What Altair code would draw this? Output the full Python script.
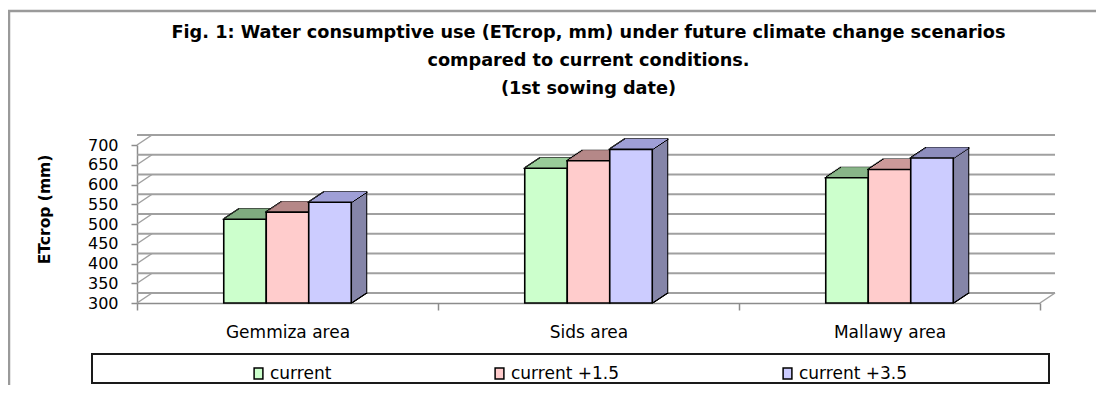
import altair as alt
import pandas as pd

# ---- data ----
areas = ["Gemmiza area", "Sids area", "Mallawy area"]
scenarios = ["current", "current +1.5", "current +3.5"]
current = [512, 641, 617]
plus15 = [530, 660, 638]
plus35 = [555, 689, 667]
y_ticks = [300, 350, 400, 450, 500, 550, 600, 650, 700]

title_lines = [
    "Fig. 1: Water consumptive use (ETcrop, mm) under future climate change scenarios",
    "compared to current conditions.",
    "(1st sowing date)",
]

front_colors = ["#ccffcc", "#ffcccc", "#ccccff"]
top_colors = ["#99cc99", "#cc9999", "#9f9fd6"]
side_colors = ["#80a680", "#a68080", "#8585a8"]

rows = []
for s, vals in zip(scenarios, [current, plus15, plus35]):
    for a, v in zip(areas, vals):
        rows.append({"area": a, "scenario": s, "et": v})
df = pd.DataFrame(rows)
ticks_df = pd.DataFrame({"et": y_ticks})
floor_df = pd.DataFrame({"et": [y_ticks[0]]})

# ---- layout / style ----
FONT = "DejaVu Sans"
W, H = 903, 158
BAR_W = 42.5
DX, DY = 15, 10
STEPS = 10
GRID = "#a0a0a0"
AXC = "#8c8c8c"

x_enc = alt.X(
    "area:N", sort=areas,
    scale=alt.Scale(paddingInner=0, paddingOuter=0),
    axis=alt.Axis(title=None, labelFont=FONT, labelFontSize=17, labelColor="black",
                  labelAngle=0, labelPadding=14, tickBand="extent", tickSize=7,
                  tickColor=AXC, tickWidth=1.5, domainColor=AXC, domainWidth=1.5,
                  grid=False),
)
y_scale = alt.Scale(domain=[y_ticks[0], y_ticks[-1]], zero=False, nice=False)
y_axis = alt.Axis(values=y_ticks, grid=False, tickSize=6, tickColor=AXC, tickWidth=1.5,
                  domainColor=AXC, domainWidth=1.5, labelFont=FONT, labelFontSize=16,
                  labelColor="black", labelPadding=13, title="ETcrop (mm)",
                  titleFont=FONT, titleFontSize=15.5, titleFontWeight="bold",
                  titleColor="black", titleX=-85, titleY=64)
y_enc = alt.Y("et:Q", scale=y_scale, axis=y_axis)
y2_enc = alt.datum(y_ticks[0])

layers = []

# back wall gridlines
layers.append(
    alt.Chart(ticks_df).mark_rule(color=GRID, strokeWidth=2, xOffset=DX, x2Offset=DX,
                                  yOffset=-DY).encode(y=y_enc)
)
# side wall diagonals from front ticks to back wall
layers.append(
    alt.Chart(ticks_df).mark_rule(color=GRID, strokeWidth=1.5, y2Offset=-DY).encode(
        x=alt.value(0), x2=alt.value(DX), y=y_enc, y2=alt.Y2("et:Q"))
)
# right floor diagonal
layers.append(
    alt.Chart(floor_df).mark_rule(color=GRID, strokeWidth=1.5, y2Offset=-DY).encode(
        x=alt.value(W), x2=alt.value(W + DX), y=y_enc, y2=alt.Y2("et:Q"))
)

offs = [-BAR_W, 0, BAR_W]
sx, sy = DX / STEPS, DY / STEPS
for k, s in enumerate(scenarios):
    base = alt.Chart(df[df["scenario"] == s])
    # black silhouette of extrusion
    for i in range(1, STEPS + 1):
        layers.append(base.mark_bar(width=BAR_W, color="black", stroke="black", strokeWidth=2,
                                    xOffset=offs[k] + i * sx, yOffset=-i * sy,
                                    y2Offset=-i * sy).encode(x=x_enc, y=y_enc, y2=y2_enc))
    # side face colour
    for i in range(1, STEPS + 1):
        layers.append(base.mark_bar(width=BAR_W, color=side_colors[k], strokeWidth=0,
                                    xOffset=offs[k] + i * sx, yOffset=-i * sy,
                                    y2Offset=-i * sy).encode(x=x_enc, y=y_enc, y2=y2_enc))
    # top face outline
    for i in range(0, STEPS + 1):
        layers.append(base.mark_tick(orient="horizontal", size=BAR_W + 2.5, thickness=1.2,
                                     color="black", opacity=1,
                                     xOffset=offs[k] + i * sx, yOffset=-i * sy).encode(x=x_enc, y=y_enc))
    # top face colour
    for i in range(0, STEPS + 1):
        layers.append(base.mark_tick(orient="horizontal", size=BAR_W - 0.5, thickness=1.2,
                                     color=top_colors[k], opacity=1,
                                     xOffset=offs[k] + i * sx, yOffset=-i * sy).encode(x=x_enc, y=y_enc))
    # front face
    layers.append(
        base.mark_bar(width=BAR_W, xOffset=offs[k], stroke="black", strokeWidth=1.6, opacity=1).encode(
            x=x_enc, y=y_enc, y2=y2_enc,
            color=alt.Color("scenario:N", scale=alt.Scale(domain=scenarios, range=front_colors),
                            legend=alt.Legend(title=None, orient="none", legendX=113, legendY=220,
                                              direction="horizontal", columnPadding=159,
                                              labelFont=FONT, labelFontSize=17, labelColor="black",
                                              symbolType="M-0.8,-1H0.8V1H-0.8Z", symbolSize=121,
                                              symbolStrokeColor="black", symbolStrokeWidth=1.5,
                                              symbolOpacity=1, labelOffset=3, padding=0)),
        )
    )

box_df = pd.DataFrame({"box": ["legend"]})
# legend frame
layers.append(
    alt.Chart(box_df).mark_rect(fill=None, stroke="#1a1a1a", strokeWidth=2).encode(
        x=alt.value(-45), x2=alt.value(912), y=alt.value(209), y2=alt.value(238))
)
# outer chart frame
layers.append(
    alt.Chart(box_df).mark_rect(fill=None, stroke="#9a9a9a", strokeWidth=2.5).encode(
        x=alt.value(-128), x2=alt.value(W + 200), y=alt.value(-134), y2=alt.value(H + 140))
)

chart = alt.layer(*layers).properties(
    width=W, height=H,
    padding={"left": 129, "top": 137, "right": 56, "bottom": 82},
    autosize=alt.AutoSizeParams(type="none"),
    title=alt.TitleParams(text=title_lines, font=FONT, fontSize=17.7, fontWeight="bold",
                          color="black", anchor="middle", frame="group", lineHeight=28,
                          offset=0, dy=88),
).configure_view(stroke=None)

chart.save("out.html", embed_options={"renderer": "svg", "actions": False})
